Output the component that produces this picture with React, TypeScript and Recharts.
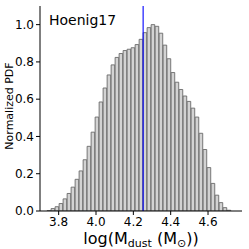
import React from 'react';
import { ComposedChart, Bar, XAxis, YAxis, ReferenceLine } from 'recharts';

const binCenters = [
  3.7488, 3.7702, 3.7917, 3.8131, 3.8345, 3.8560, 3.8774, 3.8988, 3.9202, 3.9417,
  3.9631, 3.9845, 4.0060, 4.0274, 4.0488, 4.0703, 4.0917, 4.1131, 4.1345, 4.1560,
  4.1774, 4.1988, 4.2203, 4.2417, 4.2631, 4.2845, 4.3060, 4.3274, 4.3488, 4.3702,
  4.3917, 4.4131, 4.4345, 4.4560, 4.4774, 4.4988, 4.5202, 4.5417, 4.5631, 4.5845,
  4.6059, 4.6274, 4.6488, 4.6702, 4.6917, 4.7131,
];
const pdfValues = [
  0.002, 0.013, 0.023, 0.040, 0.065, 0.094, 0.128, 0.170, 0.215, 0.275,
  0.347, 0.423, 0.504, 0.585, 0.660, 0.730, 0.784, 0.824, 0.845, 0.861,
  0.868, 0.876, 0.893, 0.921, 0.957, 0.984, 1.000, 0.991, 0.954, 0.890,
  0.817, 0.743, 0.691, 0.652, 0.617, 0.588, 0.552, 0.504, 0.417, 0.330,
  0.233, 0.148, 0.085, 0.045, 0.018, 0.004,
];
const xTicks = [3.8, 4.0, 4.2, 4.4, 4.6];
const yTicks = [0, 0.2, 0.4, 0.6, 0.8, 1.0];
const xDomain: [number, number] = [3.7, 4.782];
const yDomain: [number, number] = [0, 1.1];
const medianValue = 4.2524;
const panelLabel = 'Hoenig17';
const yLabel = 'Normalized PDF';

const data = binCenters.map((x, i) => ({ x, pdf: pdfValues[i] }));

const FONT = 'DejaVu Sans';

export default function App() {
  return (
    <div style={{ position: 'absolute', left: 0, top: 0, width: 249, height: 249, background: '#fff' }}>
      <ComposedChart
        width={249}
        height={249}
        data={data}
        margin={{ top: 6, right: 7, bottom: 0, left: 0 }}
        barCategoryGap={0}
        barGap={0}
      >
        <XAxis
          xAxisId="b"
          type="number"
          dataKey="x"
          domain={xDomain}
          allowDataOverflow
          ticks={xTicks}
          tickFormatter={(v: number) => v.toFixed(1)}
          height={38}
          tickSize={4}
          tickMargin={2}
          axisLine={{ stroke: '#000', strokeWidth: 1 }}
          tickLine={{ stroke: '#000' }}
          tick={{ fill: '#000', fontSize: 12, fontFamily: FONT }}
        />
        <XAxis
          xAxisId="t"
          orientation="top"
          type="number"
          dataKey="x"
          domain={xDomain}
          allowDataOverflow
          height={0}
          tick={false}
          tickLine={false}
          axisLine={{ stroke: '#999', strokeWidth: 1.5 }}
        />
        <YAxis
          yAxisId="l"
          type="number"
          domain={yDomain}
          allowDataOverflow
          ticks={yTicks}
          tickFormatter={(v: number) => v.toFixed(1)}
          width={40}
          tickSize={4}
          tickMargin={2}
          axisLine={{ stroke: '#000', strokeWidth: 1 }}
          tickLine={{ stroke: '#000' }}
          tick={{ fill: '#000', fontSize: 12, fontFamily: FONT }}
        />
        <YAxis
          yAxisId="r"
          orientation="right"
          type="number"
          domain={yDomain}
          allowDataOverflow
          width={0}
          tick={false}
          tickLine={false}
          axisLine={{ stroke: '#999', strokeWidth: 1.5 }}
        />
        <Bar
          xAxisId="b"
          yAxisId="l"
          dataKey="pdf"
          fill="#d3d3d3"
          stroke="#6a6a6a"
          strokeWidth={0.9}
          barSize={4}
          isAnimationActive={false}
        />
        <ReferenceLine xAxisId="b" yAxisId="l" x={medianValue} stroke="#0000ff" strokeWidth={1.1} />
        <text x={49} y={25} fontSize={14} fontFamily={FONT} fill="#000">{panelLabel}</text>
        <text transform="translate(12.7,106) rotate(-90)" textAnchor="middle" fontSize={11} fontFamily={FONT} fill="#000">{yLabel}</text>
        <text x={141} y={244} textAnchor="middle" fontSize={16} fontFamily={FONT} fill="#000">
          log(M<tspan fontSize={11} dy={2.5}>dust</tspan><tspan dy={-2.5}> (M</tspan><tspan fontSize={11} dy={2.5}>⊙</tspan><tspan dy={-2.5}>))</tspan>
        </text>
      </ComposedChart>
    </div>
  );
}
